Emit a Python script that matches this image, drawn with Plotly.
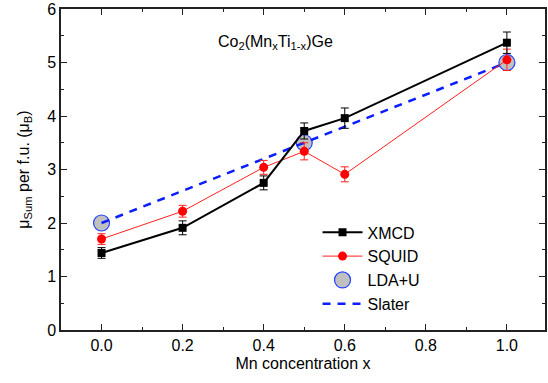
import plotly.graph_objects as go

x_xmcd = [0.0, 0.2, 0.4, 0.5, 0.6, 1.0]
y_xmcd = [1.44, 1.91, 2.75, 3.72, 3.96, 5.37]
e_xmcd = [0.10, 0.13, 0.13, 0.15, 0.19, 0.20]

x_squid = [0.0, 0.2, 0.4, 0.5, 0.6, 1.0]
y_squid = [1.70, 2.22, 3.04, 3.34, 2.91, 5.05]
e_squid = [0.10, 0.11, 0.13, 0.16, 0.14, 0.20]

x_lda = [0.0, 0.5, 1.0]
y_lda = [2.0, 3.5, 5.0]

x_slater = [0.0, 1.0]
y_slater = [2.0, 5.0]

font = "Liberation Sans, Arial, sans-serif"

fig = go.Figure()
fig.add_trace(go.Scatter(x=x_lda, y=y_lda, mode="markers", name="LDA+U", legendrank=3,
                         marker=dict(size=16, color="#c0c0c0", line=dict(color="#2040ff", width=1.2))))
fig.add_trace(go.Scatter(x=x_slater, y=y_slater, mode="lines", name="Slater", legendrank=4,
                         line=dict(color="#0a1eff", width=2.5, dash="8px,7px")))
fig.add_trace(go.Scatter(x=x_squid, y=y_squid, mode="lines+markers", name="SQUID", legendrank=2,
                         line=dict(color="#ff2020", width=1),
                         marker=dict(symbol="circle", size=9, color="#ff0000"),
                         error_y=dict(type="data", array=e_squid, color="#ff2020", thickness=1, width=4)))
fig.add_trace(go.Scatter(x=x_xmcd, y=y_xmcd, mode="lines+markers", name="XMCD", legendrank=1,
                         line=dict(color="black", width=2),
                         marker=dict(symbol="square", size=8, color="black"),
                         error_y=dict(type="data", array=e_xmcd, color="black", thickness=1, width=4)))

fig.add_annotation(x=0.43, y=5.37, xref="x", yref="y", showarrow=False,
                   text="Co<sub>2</sub>(Mn<sub>x</sub>Ti<sub>1-x</sub>)Ge",
                   font=dict(family=font, size=16, color="black"))

axis_common = dict(showline=True, linecolor="#222", linewidth=1.5, mirror="allticks",
                   ticks="inside", ticklen=6, tickwidth=1.2, tickcolor="#222",
                   showgrid=False, zeroline=False,
                   tickfont=dict(family=font, size=16, color="black"))

fig.update_xaxes(range=[-0.1, 1.094], tickvals=[0, 0.2, 0.4, 0.6, 0.8, 1.0],
                 ticktext=["0.0", "0.2", "0.4", "0.6", "0.8", "1.0"],
                 minor=dict(dtick=0.1, tick0=0, ticks="inside", ticklen=3, tickcolor="#222", tickwidth=1),
                 title=dict(text="Mn concentration x", font=dict(family=font, size=16, color="black"), standoff=5),
                 **axis_common)
fig.update_yaxes(range=[0, 6], dtick=1,
                 minor=dict(dtick=0.5, ticks="inside", ticklen=3, tickcolor="#222", tickwidth=1),
                 title=dict(text="μ<sub>Sum</sub> per f.u. (μ<sub>B</sub>)", font=dict(family=font, size=16, color="black"), standoff=14),
                 **axis_common)

fig.update_layout(width=548, height=383, margin=dict(l=61, r=1, t=9, b=53),
                  paper_bgcolor="white", plot_bgcolor="white",
                  legend=dict(x=0.53, y=0.357, xanchor="left", yanchor="top",
                              bgcolor="rgba(0,0,0,0)", font=dict(family=font, size=16, color="black"),
                              tracegroupgap=0, itemwidth=40),
                  showlegend=True)

fig.write_html("out.html")
